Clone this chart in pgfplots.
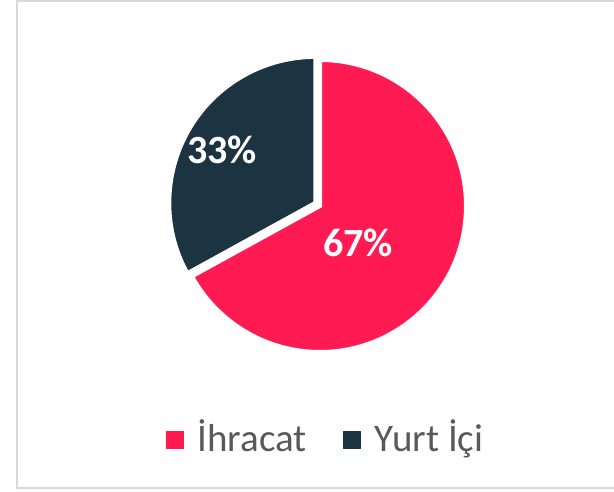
\documentclass[border=0pt]{standalone}
\usepackage{pgfplots}
\pgfplotsset{compat=1.18}
\usepackage{fontspec}
\setmainfont{Carlito}
\definecolor{ihracat}{HTML}{FF1B51}
\definecolor{yurtici}{HTML}{1C3341}
\definecolor{legendtext}{HTML}{595959}
\definecolor{framegrey}{HTML}{D9D9D9}
% shares in percent
\def\shareIhracat{67}
\def\shareYurtIci{33}
\pgfmathsetmacro\splitangle{90-3.6*\shareIhracat}
\begin{document}
\begin{tikzpicture}
\useasboundingbox (0,0) rectangle (614bp,492bp);
\begin{axis}[at={(0,0)},anchor=south west,
  width=614bp,height=492bp,scale only axis,
  xmin=0,xmax=614,ymin=0,ymax=492,hide axis,clip=false,
  legend columns=2,
  legend image code/.code={\fill[#1,draw=none] (0bp,-13bp) rectangle (18bp,5bp);},
  legend style={draw=none,fill=none,at={(axis cs:324.5,56)},anchor=center,
    font=\fontsize{39bp}{47bp}\selectfont,text=legendtext,
    nodes={inner sep=0pt},
    /tikz/every odd column/.append style={column sep=14bp},
    /tikz/every even column/.append style={column sep=36bp}}]
\draw[framegrey,line width=1.5bp] (axis cs:614,491) -- (axis cs:17,491) -- (axis cs:17,4) -- (axis cs:614,4);
% slices: Ihracat from 12 o'clock clockwise, Yurt Ici pulled out a little
\draw[white,line width=4bp,fill=ihracat] (axis cs:320,286) -- ++(90:146bp)
  arc[start angle=90,end angle=\splitangle,radius=146bp] -- cycle;
\draw[white,line width=4bp,fill=yurtici] (axis cs:315.3,289.1) -- ++(\splitangle:146bp)
  arc[start angle=\splitangle,end angle=-270,radius=146bp] -- cycle;
\node[anchor=base,text=white,font=\fontsize{40bp}{48bp}\selectfont\bfseries] at (axis cs:358,235.3) {\shareIhracat\%};
\node[anchor=base,text=white,font=\fontsize{40bp}{48bp}\selectfont\bfseries] at (axis cs:222,328.7) {\shareYurtIci\%};
\addlegendimage{fill=ihracat}
\addlegendentry{İhracat}
\addlegendimage{fill=yurtici}
\addlegendentry{Yurt İçi}
\end{axis}
\end{tikzpicture}
\end{document}
